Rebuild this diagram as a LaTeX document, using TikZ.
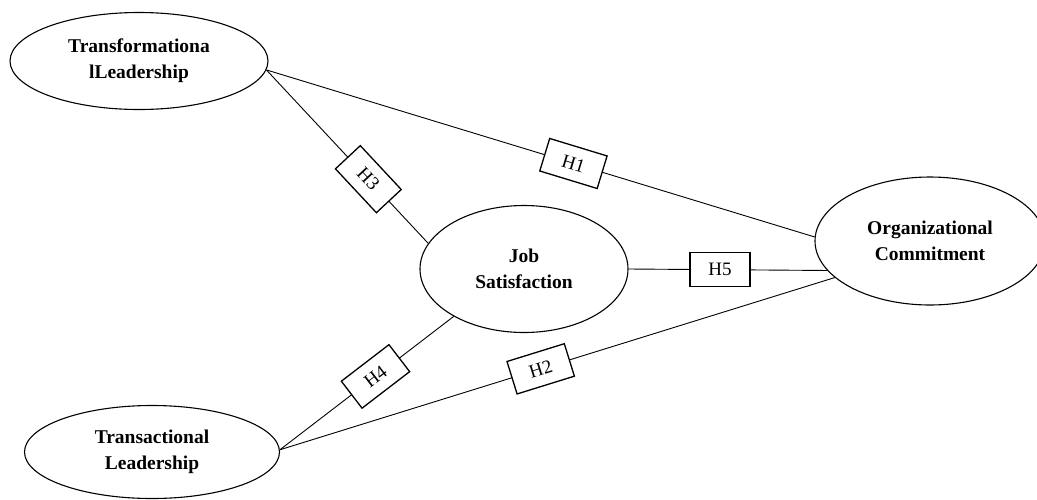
\documentclass[tikz,border=0pt]{standalone}
\usepackage{fontspec}
\setmainfont{Liberation Serif}
\usetikzlibrary{shapes.geometric}
\begin{document}
\begin{tikzpicture}[x=1pt,y=-1pt,
  construct/.style={ellipse,draw,line width=1.1pt,inner sep=0pt,align=center,
    font=\fontsize{19.5}{26}\selectfont\bfseries},
  hyp/.style={draw,fill=white,line width=1.3pt,minimum width=60pt,minimum height=34pt,
    inner sep=0pt,font=\fontsize{19}{22}\selectfont},
  link/.style={line width=0.9pt}]
\useasboundingbox (0,0) rectangle (1037,499);
\node[construct,minimum width=258pt,minimum height=97pt] (TF) at (139,61) {Transformationa\\lLeadership};
\node[construct,minimum width=255pt,minimum height=93pt] (TA) at (152,452) {Transactional\\Leadership};
\node[construct,minimum width=208pt,minimum height=127pt] (JS) at (524,269) {Job\\Satisfaction};
\node[construct,minimum width=230pt,minimum height=128pt] (OC) at (930,241) {Organizational\\Commitment};
\draw[link] (TF.-4) -- node[hyp,sloped,pos=0.56] (h1) {H1} (OC.178);
\draw[link] (TF.-4) -- node[hyp,sloped,pos=0.63] (h3) {H3} (JS.165);
\draw[link] (TA.1) -- node[hyp,sloped,pos=0.55] (h4) {H4} (JS.214);
\draw[link] (TA.1) -- node[hyp,sloped,pos=0.47] (h2) {H2} (OC.201);
\draw[link] (JS.east) -- node[hyp,pos=0.46] (h5) {H5} (OC.196);
\end{tikzpicture}
\end{document}
